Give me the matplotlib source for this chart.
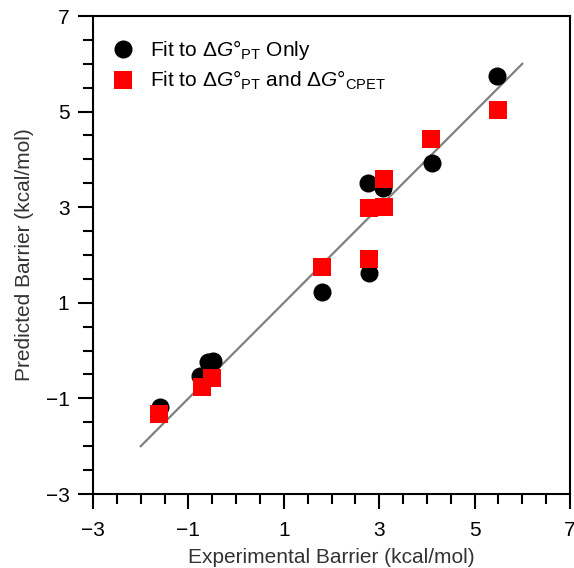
import numpy as np
import matplotlib
matplotlib.use("Agg")
import matplotlib.pyplot as plt
from matplotlib.ticker import FixedLocator, MultipleLocator

# ---------------- Data ----------------
# experimental vs predicted barriers (kcal/mol)
pt_exp = [-1.60, -0.76, -0.59, -0.48, 1.80, 2.79, 2.77, 3.08, 4.11, 5.47]
pt_pred = [-1.18, -0.53, -0.24, -0.22, 1.23, 1.62, 3.51, 3.40, 3.92, 5.74]

cpet_exp = [-1.62, -0.71, -0.50, 1.80, 2.79, 2.79, 3.10, 3.10, 4.09, 5.49]
cpet_pred = [-1.33, -0.76, -0.57, 1.75, 1.92, 2.98, 3.00, 3.59, 4.43, 5.03]

parity_range = [-2, 6]
major_ticks = [-3, -1, 1, 3, 5, 7]

# ---------------- Style ----------------
plt.rcParams["font.family"] = ["Liberation Sans", "DejaVu Sans"]
plt.rcParams["mathtext.fontset"] = "custom"
plt.rcParams["mathtext.rm"] = "Liberation Sans"
plt.rcParams["mathtext.it"] = "Liberation Sans:italic"
plt.rcParams["font.size"] = 15

fig = plt.figure(figsize=(5.74, 5.68), dpi=100)
ax = fig.add_axes([93 / 574, 74 / 568, 477 / 574, 478 / 568])

# parity line
ax.plot(parity_range, parity_range, color="#808080", lw=1.6, zorder=1)

ax.plot(pt_exp, pt_pred, "o", color="black", ms=13, mew=0, zorder=2,
        label=r"Fit to $\Delta G$°$_{\mathrm{PT}}$ Only")
ax.plot(cpet_exp, cpet_pred, "s", color="#ff0000", ms=13, mew=0, zorder=3,
        label=r"Fit to $\Delta G$°$_{\mathrm{PT}}$ and $\Delta G$°$_{\mathrm{CPET}}$")

ax.set_xlim(-3, 7)
ax.set_ylim(-3, 7)
for axis in (ax.xaxis, ax.yaxis):
    axis.set_major_locator(FixedLocator(major_ticks))
    axis.set_minor_locator(MultipleLocator(0.5))

for s in ax.spines.values():
    s.set_linewidth(1.5)
ax.tick_params(which="major", direction="out", length=11, width=1.5, pad=6)
ax.tick_params(axis="x", which="major", pad=8.5)
ax.tick_params(which="minor", direction="out", length=7.5, width=1.5)
ax.tick_params(top=False, right=False, which="both")

ax.set_xlabel("Experimental Barrier (kcal/mol)", color="#333333", labelpad=6)
ax.set_ylabel("Predicted Barrier (kcal/mol)", color="#333333", labelpad=8)

ax.legend(loc="upper left", frameon=False, handlelength=0.8, handletextpad=0.9,
          labelspacing=0.35, borderaxespad=0.5, borderpad=0.55)

fig.savefig("out.png", dpi=100)
